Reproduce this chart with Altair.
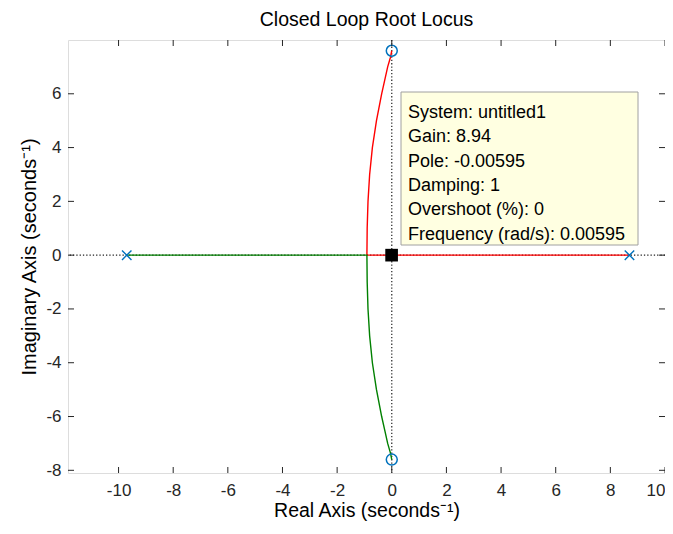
import altair as alt
import pandas as pd

# ---- data ----
x_ticks = [-10, -8, -6, -4, -2, 0, 2, 4, 6, 8, 10]
y_ticks = [-8, -6, -4, -2, 0, 2, 4, 6]

poles_re = [-9.7, 8.7]
poles_im = [0.0, 0.0]
zeros_re = [0.0, 0.0]
zeros_im = [7.6, -7.6]

# red branch: from pole at 8.7 along real axis to breakaway, then up to zero
red_re = [8.7, -0.91, -0.9, -0.87, -0.81, -0.71, -0.56, -0.37, -0.26, -0.15, -0.05, 0.0]
red_im = [0.0, 0.0, 1.0, 2.0, 3.0, 4.0, 5.0, 6.0, 6.5, 7.0, 7.35, 7.6]
# green branch: from pole at -9.7 along real axis to breakaway, then down to zero
green_re = [-9.7, -0.91, -0.9, -0.87, -0.81, -0.71, -0.56, -0.37, -0.26, -0.15, -0.05, 0.0]
green_im = [0.0, 0.0, -1.0, -2.0, -3.0, -4.0, -5.0, -6.0, -6.5, -7.0, -7.35, -7.6]

sel_re = [-0.00595]
sel_im = [0.0]

tip_lines = [
    "System: untitled1",
    "Gain: 8.94",
    "Pole: -0.00595",
    "Damping: 1",
    "Overshoot (%): 0",
    "Frequency (rad/s): 0.00595",
]

FONT = "Liberation Sans"
W, H = 597, 433

xscale = alt.Scale(domain=[-11.85, 10], nice=False, zero=False)
yscale = alt.Scale(domain=[-8.1, 8.0], nice=False, zero=False)
xaxis = alt.Axis(values=x_ticks, ticks=False, domain=False, grid=False,
                 labelFontSize=17, labelColor="#262626", labelPadding=9,
                 labelExpr="toString(datum.value)",
                 labelAlign=alt.expr("datum.value == 10 ? 'right' : 'center'"),
                 labelFlush=False, labelOverlap=False, labelFont=FONT,
                 title="Real Axis (seconds⁻¹)", titleFont=FONT, titleFontSize=19.5,
                 titleFontWeight="normal", titleColor="#000000", titlePadding=3)
yaxis = alt.Axis(values=y_ticks, ticks=False, domain=False, grid=False,
                 labelFontSize=17, labelColor="#262626", labelPadding=7,
                 labelExpr="toString(datum.value)",
                 labelFlush=False, labelOverlap=False, labelFont=FONT,
                 title="Imaginary Axis (seconds⁻¹)", titleFont=FONT, titleFontSize=20,
                 titleFontWeight="normal", titleColor="#000000", titlePadding=6)


def X(f):
    return alt.X(f, type="quantitative", scale=xscale, axis=xaxis)


def Y(f):
    return alt.Y(f, type="quantitative", scale=yscale, axis=yaxis)


branches = pd.DataFrame(
    [{"branch": "red", "re": r, "im": i, "k": k} for k, (r, i) in enumerate(zip(red_re, red_im))]
    + [{"branch": "green", "re": r, "im": i, "k": k} for k, (r, i) in enumerate(zip(green_re, green_im))]
)
poles = pd.DataFrame({"re": poles_re, "im": poles_im})
zeros = pd.DataFrame({"re": zeros_re, "im": zeros_im})
sel = pd.DataFrame({"re": sel_re, "im": sel_im})
xt = pd.DataFrame({"v": x_ticks})
yt = pd.DataFrame({"v": y_ticks})
zero_df = pd.DataFrame({"v": [0.0]})

dot_v = alt.Chart(zero_df).mark_rule(color="#222222", strokeDash=[1.3, 2.0], strokeWidth=1.2).encode(x=X("v"))
dot_h = alt.Chart(zero_df).mark_rule(color="#222222", strokeDash=[1.3, 2.0], strokeWidth=1.2).encode(y=Y("v"))

lines = alt.Chart(branches).mark_line(strokeWidth=1.4).encode(
    x=X("re"), y=Y("im"), order="k:Q",
    color=alt.Color("branch:N", scale=alt.Scale(domain=["red", "green"], range=["#ff0000", "#008000"]), legend=None),
    detail="branch:N",
)

pole_marks = alt.Chart(poles).mark_point(
    shape="M-1,-1L1,1M-1,1L1,-1", filled=False, color="#0072BD", size=90, strokeWidth=1.4, opacity=1
).encode(x=X("re"), y=Y("im"))

zero_marks = alt.Chart(zeros).mark_point(
    shape="circle", filled=False, color="#0072BD", size=120, strokeWidth=1.5, opacity=1
).encode(x=X("re"), y=Y("im"))

sel_mark = alt.Chart(sel).mark_point(
    shape="square", filled=True, color="#000000", size=160, opacity=1
).encode(x=X("re"), y=Y("im"))

tick_top = alt.Chart(xt).mark_rule(color="#262626").encode(x=X("v"), y=alt.value(0), y2=alt.value(6))
tick_bot = alt.Chart(xt).mark_rule(color="#262626").encode(x=X("v"), y=alt.value(H), y2=alt.value(H - 6))
tick_left = alt.Chart(yt).mark_rule(color="#262626").encode(y=Y("v"), x=alt.value(0), x2=alt.value(6))
tick_right = alt.Chart(yt).mark_rule(color="#262626").encode(y=Y("v"), x=alt.value(W), x2=alt.value(W - 6))

tip_box = alt.Chart(zero_df).mark_rect(fill="#FFFFE1", stroke="#A0A0A0", strokeWidth=1).encode(
    x=alt.value(333), x2=alt.value(570), y=alt.value(52), y2=alt.value(205)
)
tip_text = alt.Chart(zero_df).mark_text(
    text=tip_lines, align="left", baseline="top", font=FONT, fontSize=18, lineHeight=24.3, color="#000000"
).encode(x=alt.value(340), y=alt.value(64))

chart = alt.layer(
    dot_v, dot_h, lines, pole_marks, zero_marks, tip_box, tip_text, sel_mark,
    tick_top, tick_bot, tick_left, tick_right,
).properties(
    width=W, height=H,
    title=alt.TitleParams("Closed Loop Root Locus", font=FONT, fontSize=19.5, fontWeight="normal",
                          color="#000000", offset=-10, baseline="bottom"),
    autosize=alt.AutoSizeParams(type="none"),
    padding={"left": 60, "top": 32, "right": 0, "bottom": 49},
).configure_view(stroke="#262626", strokeWidth=1).configure(background="#ffffff")

chart.save("out.html", embed_options={"renderer": "svg", "actions": False})
